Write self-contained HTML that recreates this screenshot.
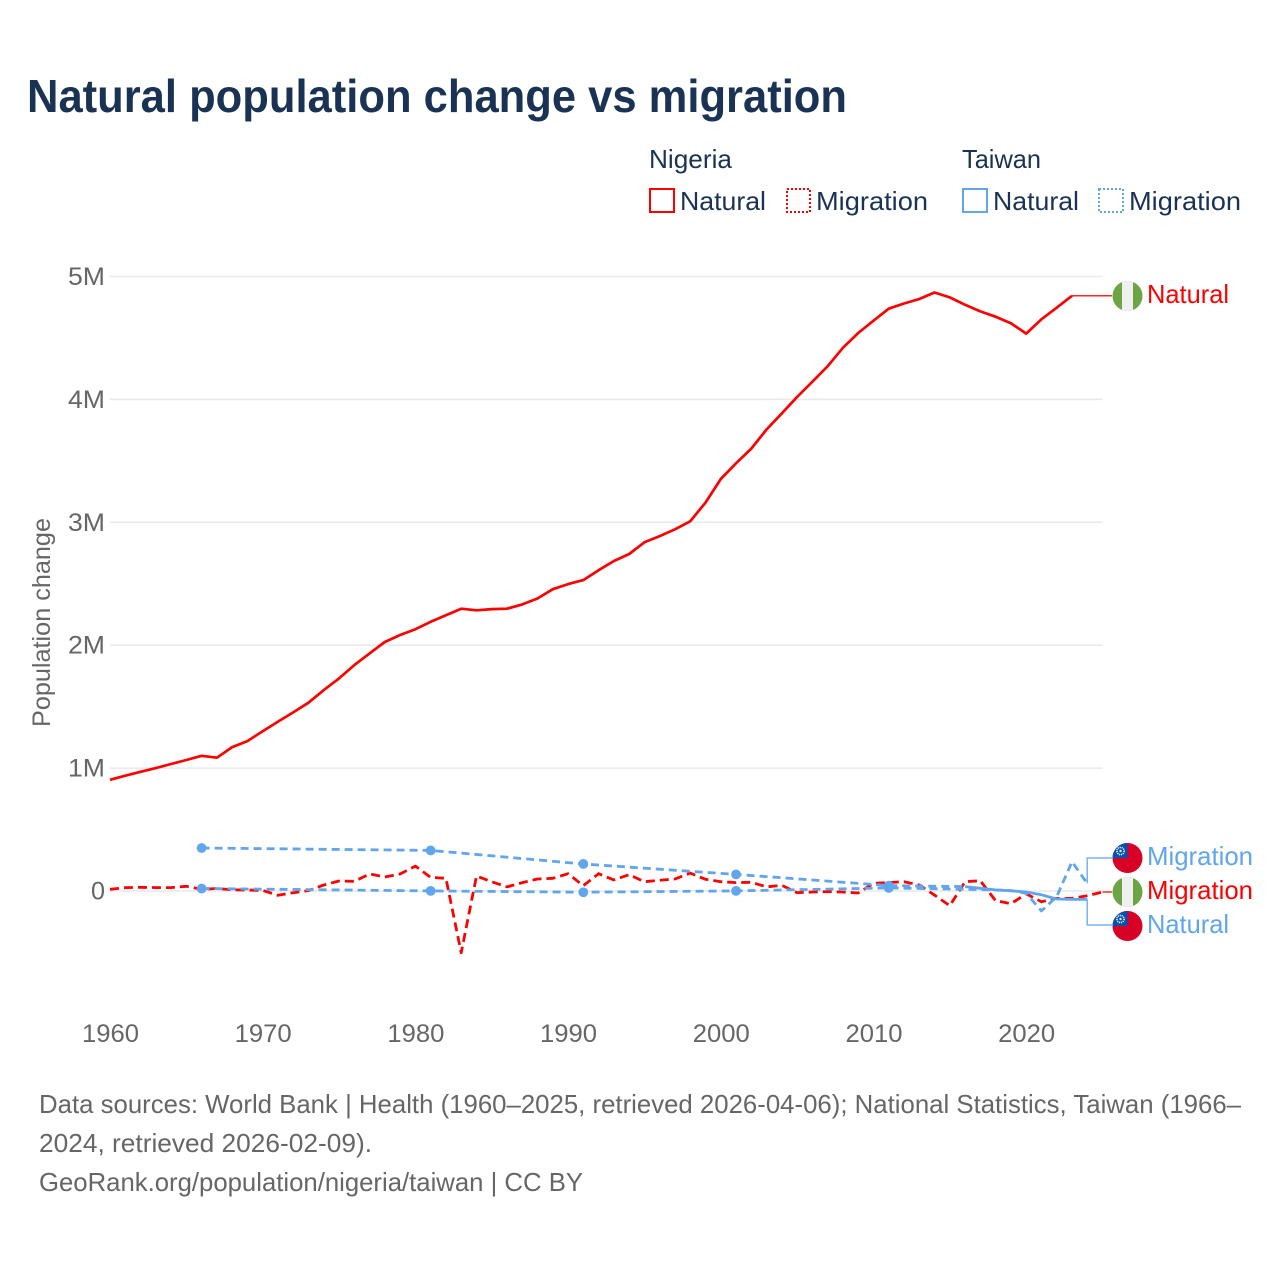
<!DOCTYPE html>
<html lang="en">
<head>
<meta charset="utf-8">
<title>Natural population change vs migration</title>
<style>
html,body{margin:0;padding:0;background:#fff;}
svg{display:block;font-family:"Liberation Sans",sans-serif;}
</style>
</head>
<body>
<svg id="chart" xmlns="http://www.w3.org/2000/svg" width="1280" height="1280" viewBox="0 0 1280 1280">
  <defs>
    <clipPath id="clip-flag-a"><circle cx="1127.5" cy="296" r="15"/></clipPath>
    <clipPath id="clip-flag-b"><circle cx="1127.5" cy="858" r="15"/></clipPath>
    <clipPath id="clip-flag-c"><circle cx="1127.5" cy="892" r="15"/></clipPath>
    <clipPath id="clip-flag-d"><circle cx="1127.5" cy="926" r="15"/></clipPath>
  </defs>
  <rect x="0" y="0" width="1280" height="1280" fill="#fff"/>
  <text x="27" y="112" font-size="46" font-weight="700" fill="#1a3354" textLength="820" lengthAdjust="spacingAndGlyphs">Natural population change vs migration</text>

  <g font-size="26" fill="#1a3354">
    <text x="649" y="168" textLength="83" lengthAdjust="spacingAndGlyphs">Nigeria</text>
    <text x="962" y="168" textLength="79" lengthAdjust="spacingAndGlyphs">Taiwan</text>
    <rect x="650" y="189" width="24" height="23" fill="none" stroke="#ff0000" stroke-width="2"/>
    <text x="680" y="210" textLength="86" lengthAdjust="spacingAndGlyphs">Natural</text>
    <rect x="787" y="189" width="23" height="23" fill="none" stroke="#ff0000" stroke-width="2" stroke-dasharray="2 2"/>
    <text x="816" y="210" textLength="112" lengthAdjust="spacingAndGlyphs">Migration</text>
    <rect x="963" y="189" width="24" height="23" fill="none" stroke="#60a5ee" stroke-width="2"/>
    <text x="993" y="210" textLength="86" lengthAdjust="spacingAndGlyphs">Natural</text>
    <rect x="1099" y="189" width="24" height="23" fill="none" stroke="#60a5ee" stroke-width="2" stroke-dasharray="2 2"/>
    <text x="1129" y="210" textLength="112" lengthAdjust="spacingAndGlyphs">Migration</text>
  </g>

  <text transform="translate(50,622.5) rotate(-90)" text-anchor="middle" font-size="25" fill="#666" textLength="209" lengthAdjust="spacingAndGlyphs">Population change</text>

  <g id="grid"></g>
  <g id="y-ticks"></g>
  <g id="x-ticks"></g>
  <g id="connectors"></g>
  <g id="series"></g>

  <g clip-path="url(#clip-flag-a)">
    <rect x="1112" y="280" width="32" height="32" fill="#6da544"/>
    <rect x="1122" y="280" width="11" height="32" fill="#f0f0f0"/>
  </g>
  <text x="1147" y="303" font-size="26" fill="#ff0000" textLength="82" lengthAdjust="spacingAndGlyphs">Natural</text>

  <g clip-path="url(#clip-flag-b)">
    <rect x="1112" y="842" width="32" height="32" fill="#d80027"/>
    <rect x="1112" y="842" width="15.5" height="16" fill="#0052b4"/>
    <circle cx="1120.5" cy="851" r="3.6" fill="none" stroke="#f0f0f0" stroke-width="1.6" stroke-dasharray="1.2 0.8"/>
    <circle cx="1120.5" cy="851" r="1.2" fill="#f0f0f0"/>
  </g>
  <text x="1147" y="865" font-size="26" fill="#60a5ee" textLength="106" lengthAdjust="spacingAndGlyphs">Migration</text>

  <g clip-path="url(#clip-flag-c)">
    <rect x="1112" y="876" width="32" height="32" fill="#6da544"/>
    <rect x="1122" y="876" width="11" height="32" fill="#f0f0f0"/>
  </g>
  <text x="1147" y="899" font-size="26" fill="#ff0000" textLength="106" lengthAdjust="spacingAndGlyphs">Migration</text>

  <g clip-path="url(#clip-flag-d)">
    <rect x="1112" y="910" width="32" height="32" fill="#d80027"/>
    <rect x="1112" y="910" width="15.5" height="16" fill="#0052b4"/>
    <circle cx="1120.5" cy="919" r="3.6" fill="none" stroke="#f0f0f0" stroke-width="1.6" stroke-dasharray="1.2 0.8"/>
    <circle cx="1120.5" cy="919" r="1.2" fill="#f0f0f0"/>
  </g>
  <text x="1147" y="933" font-size="26" fill="#60a5ee" textLength="82" lengthAdjust="spacingAndGlyphs">Natural</text>

  <g font-size="26" fill="#666">
    <text x="39" y="1113" textLength="1202" lengthAdjust="spacingAndGlyphs">Data sources: World Bank | Health (1960–2025, retrieved 2026-04-06); National Statistics, Taiwan (1966–</text>
    <text x="39" y="1152" textLength="333" lengthAdjust="spacingAndGlyphs">2024, retrieved 2026-02-09).</text>
    <text x="39" y="1191" textLength="544" lengthAdjust="spacingAndGlyphs">GeoRank.org/population/nigeria/taiwan | CC BY</text>
  </g>
</svg>
<script>
// Chart data (values in thousands of people)
const xTickYears = [1960, 1970, 1980, 1990, 2000, 2010, 2020];
const yTickValues = [0, 1000, 2000, 3000, 4000, 5000];
const yTickLabels = ["0", "1M", "2M", "3M", "4M", "5M"];

const nigeriaNaturalYears = [1960,1961,1962,1963,1964,1965,1966,1967,1968,1969,1970,1971,1972,1973,1974,1975,1976,1977,1978,1979,1980,1981,1982,1983,1984,1985,1986,1987,1988,1989,1990,1991,1992,1993,1994,1995,1996,1997,1998,1999,2000,2001,2002,2003,2004,2005,2006,2007,2008,2009,2010,2011,2012,2013,2014,2015,2016,2017,2018,2019,2020,2021,2022,2023];
const nigeriaNaturalValues = [905,938,970,1000,1033,1066,1100,1085,1171,1220,1300,1378,1453,1532,1635,1730,1838,1933,2026,2083,2130,2190,2243,2297,2284,2294,2297,2332,2380,2456,2497,2530,2610,2685,2742,2837,2888,2943,3008,3160,3352,3480,3600,3756,3886,4020,4144,4270,4420,4540,4640,4738,4780,4817,4870,4830,4770,4716,4673,4620,4535,4652,4746,4843];

const nigeriaMigrationYears = [1960,1961,1962,1963,1964,1965,1966,1967,1968,1969,1970,1971,1972,1973,1974,1975,1976,1977,1978,1979,1980,1981,1982,1983,1984,1985,1986,1987,1988,1989,1990,1991,1992,1993,1994,1995,1996,1997,1998,1999,2000,2001,2002,2003,2004,2005,2006,2007,2008,2009,2010,2011,2012,2013,2014,2015,2016,2017,2018,2019,2020,2021,2022,2023,2024,2025];
const nigeriaMigrationValues = [14,27,30,28,28,38,14,20,10,8,5,-35,-14,3,49,81,79,138,114,138,203,111,103,-502,122,76,33,68,98,103,141,43,141,90,133,76,87,98,146,95,76,68,71,33,46,-14,-8,-5,-8,-16,63,68,76,49,-33,-120,76,84,-79,-103,-24,-87,-60,-60,-38,-8];

const taiwanMigrationYears = [1966,1981,1991,2001,2011,2016,2017,2018,2019,2020,2021,2022,2023,2024];
const taiwanMigrationValues = [20,1,-10,1,25,14,12,8,4,-19,-162,-46,238,62];

const taiwanNaturalYears = [1966,1981,1991,2001,2011,2016,2017,2018,2019,2020,2021,2022,2023,2024];
const taiwanNaturalValues = [350,330,220,135,44,36,22,9,2,-8,-31,-65,-68,-68];

// Axis functions
const X_LEFT = 110, X_RIGHT = 1102.5, Y_ZERO = 891, Y_PER_THOUSAND = 0.1229;
function xScale(year) { return X_LEFT + (year - 1960) * (X_RIGHT - X_LEFT) / 65; }
function yScale(value) { return Y_ZERO - value * Y_PER_THOUSAND; }

const NS = "http://www.w3.org/2000/svg";
const RED = "#ff0000", BLUE = "#60a5ee";
const grid = document.getElementById("grid");
const yTicks = document.getElementById("y-ticks");
const xTicks = document.getElementById("x-ticks");
const connectors = document.getElementById("connectors");
const series = document.getElementById("series");

function setAttrs(el, attrs) { for (const k in attrs) el.setAttribute(k, attrs[k]); }
function toPoints(years, values) {
  return years.map(function (yr, i) { return xScale(yr).toFixed(1) + "," + yScale(values[i]).toFixed(1); }).join(" ");
}

yTickValues.forEach(function (v, i) {
  const line = document.createElementNS(NS, "line");
  
  
  setAttrs(line, { x1: X_LEFT, x2: X_RIGHT, y1: yScale(v), y2: yScale(v), stroke: "#e9e9e9", "stroke-width": 1.5 });
  grid.appendChild(line);

  const label = document.createElementNS(NS, "text");
  
  
  setAttrs(label, { x: 105, y: yScale(v) + 8.5, "text-anchor": "end", "font-size": 25, fill: "#666", textLength: yTickLabels[i].length === 1 ? 14 : 37, lengthAdjust: "spacingAndGlyphs" });
  label.textContent = yTickLabels[i];
  yTicks.appendChild(label);
});

xTickYears.forEach(function (yr) {
  const label = document.createElementNS(NS, "text");
  
  
  setAttrs(label, { x: xScale(yr) + 0.5, y: 1042, "text-anchor": "middle", "font-size": 25, fill: "#666", textLength: 57, lengthAdjust: "spacingAndGlyphs" });
  label.textContent = String(yr);
  xTicks.appendChild(label);
});

// Connectors from each series' last point to its flag
function addConnector(years, values, flagY, color, name) {
  const lastX = xScale(years[years.length - 1]);
  const lastY = yScale(values[values.length - 1]);
  const path = document.createElementNS(NS, "polyline");
  
  
  const pts = Math.abs(flagY - lastY) < 1.5
    ? [[lastX, lastY], [1112, lastY]]
    : [[lastX, lastY], [lastX, flagY], [1112, flagY]];
  setAttrs(path, { points: pts.map(function (p) { return p.join(","); }).join(" "), fill: "none", stroke: color, "stroke-width": 1.5, "stroke-opacity": 0.85 });
  connectors.appendChild(path);
}
addConnector(nigeriaNaturalYears, nigeriaNaturalValues, 296, RED, 'connector-nigeria-natural');
addConnector(nigeriaMigrationYears, nigeriaMigrationValues, 892, RED, 'connector-nigeria-migration');
addConnector(taiwanMigrationYears, taiwanMigrationValues, 858, BLUE, 'connector-taiwan-migration');
addConnector(taiwanNaturalYears, taiwanNaturalValues, 925, BLUE, 'connector-taiwan-natural');

// Nigeria lines
const nigeriaNaturalLine = document.createElementNS(NS, "polyline");


setAttrs(nigeriaNaturalLine, { points: toPoints(nigeriaNaturalYears, nigeriaNaturalValues), fill: "none", stroke: RED, "stroke-width": 2.7, "stroke-linejoin": "round" });
series.appendChild(nigeriaNaturalLine);

const nigeriaMigrationLine = document.createElementNS(NS, "polyline");


setAttrs(nigeriaMigrationLine, { points: toPoints(nigeriaMigrationYears, nigeriaMigrationValues), fill: "none", stroke: RED, "stroke-width": 2.8, "stroke-linejoin": "round", "stroke-dasharray": "9 5" });
series.appendChild(nigeriaMigrationLine);

// Taiwan lines: sparse years are dashed with markers on isolated points
function addTaiwanDashed(years, values, name) {
  const line = document.createElementNS(NS, "polyline");
  
  
  setAttrs(line, { points: toPoints(years, values), fill: "none", stroke: BLUE, "stroke-width": 2.8, "stroke-linejoin": "round", "stroke-dasharray": "8 5" });
  series.appendChild(line);
}
function addTaiwanMarkers(years, values, name) {
  years.forEach(function (yr, i) {
    const hasNeighbour = years.indexOf(yr - 1) >= 0 || years.indexOf(yr + 1) >= 0;
    if (hasNeighbour) return;
    const dot = document.createElementNS(NS, "circle");
    
    
    setAttrs(dot, { cx: xScale(yr), cy: yScale(values[i]), r: 4.9, fill: BLUE });
    series.appendChild(dot);
  });
}

addTaiwanDashed(taiwanMigrationYears, taiwanMigrationValues, 'line-taiwan-migration');
addTaiwanMarkers(taiwanMigrationYears, taiwanMigrationValues, 'marker-taiwan-migration');

// Natural: dashed across multi-year gaps, solid across consecutive years
const sparseNaturalEnd = taiwanNaturalYears.findIndex(function (yr, i) { return taiwanNaturalYears[i + 1] === yr + 1; });
addTaiwanDashed(taiwanNaturalYears.slice(0, sparseNaturalEnd + 1), taiwanNaturalValues.slice(0, sparseNaturalEnd + 1), 'line-taiwan-natural-sparse');
addTaiwanMarkers(taiwanNaturalYears, taiwanNaturalValues, 'marker-taiwan-natural');

const taiwanNaturalSolid = document.createElementNS(NS, "polyline");


setAttrs(taiwanNaturalSolid, { points: toPoints(taiwanNaturalYears.slice(sparseNaturalEnd), taiwanNaturalValues.slice(sparseNaturalEnd)), fill: "none", stroke: BLUE, "stroke-width": 2.8, "stroke-linejoin": "round" });
series.appendChild(taiwanNaturalSolid);
</script>
</body>
</html>
